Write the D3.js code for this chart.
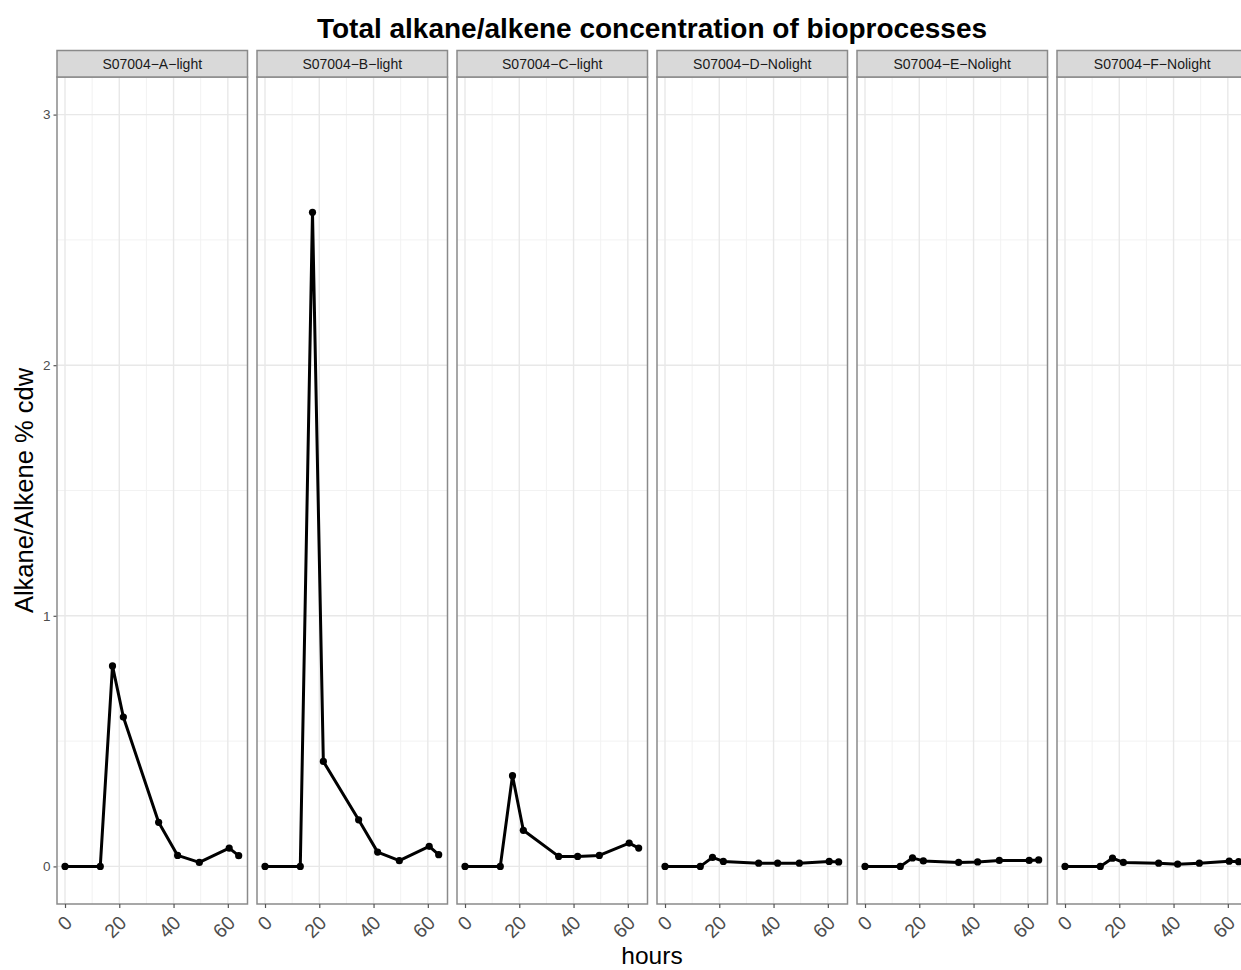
<!DOCTYPE html>
<html>
<head>
<meta charset="utf-8">
<script src="https://cdn.jsdelivr.net/npm/d3@7"></script>
<style>
  html, body { margin: 0; padding: 0; background: #ffffff; }
  svg { display: block; font-family: "Liberation Sans", Arial, Helvetica, sans-serif; }
</style>
</head>
<body>
<svg id="chart" width="1241" height="970"></svg>
<script>
// Sampling times (hours) shared by every bioprocess
const hours = [0, 13, 17.5, 21.5, 34.5, 41.5, 49.5, 60.5, 64];

// Facet labels
const samples = [
  "S07004\u2212A\u2212light",
  "S07004\u2212B\u2212light",
  "S07004\u2212C\u2212light",
  "S07004\u2212D\u2212Nolight",
  "S07004\u2212E\u2212Nolight",
  "S07004\u2212F\u2212Nolight"
];

// Total alkane/alkene, % of cell dry weight
const valuesA = [0, 0, 0.800, 0.596, 0.176, 0.044, 0.016, 0.073, 0.043];
const valuesB = [0, 0, 2.610, 0.419, 0.186, 0.057, 0.023, 0.080, 0.047];
const valuesC = [0, 0, 0.362, 0.144, 0.040, 0.040, 0.044, 0.093, 0.073];
const valuesD = [0, 0, 0.036, 0.020, 0.013, 0.013, 0.013, 0.020, 0.018];
const valuesE = [0, 0, 0.034, 0.022, 0.016, 0.018, 0.024, 0.024, 0.026];
const valuesF = [0, 0, 0.033, 0.016, 0.013, 0.009, 0.013, 0.021, 0.019];

// Axis ticks
const xTicks = [0, 20, 40, 60];
const xMinor = [10, 30, 50];
const yTicks = [0, 1, 2, 3];
const yMinor = [0.5, 1.5, 2.5];

const series = [valuesA, valuesB, valuesC, valuesD, valuesE, valuesF];

const svg = d3.select("#chart");

const panel = { left: 57, width: 190.5, step: 200, top: 77, bottom: 904, stripH: 26.5 };

const y = d3.scaleLinear().domain([-0.15, 3.15]).range([panel.bottom, panel.top]);

// Title
svg.append("text")
  .attr("x", 652).attr("y", 38)
  .attr("text-anchor", "middle")
  .style("font-size", "28px").attr("font-weight", "bold")
  .attr("fill", "#000")
  .text("Total alkane/alkene concentration of bioprocesses");

// Axis titles
svg.append("text")
  .attr("x", 652).attr("y", 964)
  .attr("text-anchor", "middle")
  .style("font-size", "24.5px").attr("fill", "#000")
  .text("hours");

svg.append("text")
  .attr("transform", `translate(33,${(panel.top + panel.bottom) / 2}) rotate(-90)`)
  .attr("text-anchor", "middle")
  .style("font-size", "25.5px").attr("fill", "#000")
  .text("Alkane/Alkene % cdw");

// Y axis (left of first panel)
const yAxis = d3.axisLeft(y).tickValues(yTicks).tickSize(3.5).tickPadding(3).tickFormat(d3.format("d"));
const yg = svg.append("g").attr("transform", `translate(${panel.left},0)`).call(yAxis);
yg.select(".domain").remove();
yg.selectAll(".tick line").attr("stroke", "#555").attr("stroke-width", 1.2);
yg.selectAll(".tick text").style("font-size", "13.5px").attr("fill", "#4d4d4d")
  .style("font-family", "Liberation Sans, Arial, sans-serif");

series.forEach((vals, i) => {
  const x0 = panel.left + i * panel.step;
  const x = d3.scaleLinear().domain([-2.95, 67.25]).range([x0, x0 + panel.width]);
  const g = svg.append("g");

  // panel background
  g.append("rect")
    .attr("x", x0).attr("y", panel.top)
    .attr("width", panel.width).attr("height", panel.bottom - panel.top)
    .attr("fill", "#fff");

  // minor grid
  g.selectAll(".vmin").data(xMinor).join("line")
    .attr("x1", d => x(d)).attr("x2", d => x(d))
    .attr("y1", panel.top).attr("y2", panel.bottom)
    .attr("stroke", "#f2f2f2").attr("stroke-width", 1);
  g.selectAll(".hmin").data(yMinor).join("line")
    .attr("x1", x0).attr("x2", x0 + panel.width)
    .attr("y1", d => y(d)).attr("y2", d => y(d))
    .attr("stroke", "#f2f2f2").attr("stroke-width", 1);
  // major grid
  g.selectAll(".vmaj").data(xTicks).join("line")
    .attr("x1", d => x(d)).attr("x2", d => x(d))
    .attr("y1", panel.top).attr("y2", panel.bottom)
    .attr("stroke", "#e8e8e8").attr("stroke-width", 1.4);
  g.selectAll(".hmaj").data(yTicks).join("line")
    .attr("x1", x0).attr("x2", x0 + panel.width)
    .attr("y1", d => y(d)).attr("y2", d => y(d))
    .attr("stroke", "#e8e8e8").attr("stroke-width", 1.4);

  // data line and points
  const pts = hours.map((h, k) => [h, vals[k]]);
  g.append("path")
    .datum(pts)
    .attr("fill", "none")
    .attr("stroke", "#000")
    .attr("stroke-width", 3)
    .attr("stroke-linejoin", "round")
    .attr("d", d3.line().x(d => x(d[0])).y(d => y(d[1])));
  g.selectAll("circle").data(pts).join("circle")
    .attr("cx", d => x(d[0])).attr("cy", d => y(d[1]))
    .attr("r", 3.6).attr("fill", "#000");

  // panel border
  g.append("rect")
    .attr("x", x0).attr("y", panel.top)
    .attr("width", panel.width).attr("height", panel.bottom - panel.top)
    .attr("fill", "none").attr("stroke", "#8a8a8a").attr("stroke-width", 1.5);

  // strip
  g.append("rect")
    .attr("x", x0).attr("y", panel.top - panel.stripH)
    .attr("width", panel.width).attr("height", panel.stripH)
    .attr("fill", "#d9d9d9").attr("stroke", "#8a8a8a").attr("stroke-width", 1.5);
  g.append("text")
    .attr("x", x0 + panel.width / 2).attr("y", panel.top - panel.stripH / 2 + 5)
    .attr("text-anchor", "middle")
    .style("font-size", "14px").attr("fill", "#1a1a1a")
    .text(samples[i]);

  // x axis
  const xAxis = d3.axisBottom(x).tickValues(xTicks).tickSize(4).tickPadding(2).tickFormat(d3.format("d"));
  const xg = svg.append("g").attr("transform", `translate(0,${panel.bottom})`).call(xAxis);
  xg.select(".domain").remove();
  xg.selectAll(".tick line").attr("stroke", "#555").attr("stroke-width", 1.2);
  xg.selectAll(".tick text")
    .style("font-size", "19.5px").attr("fill", "#4d4d4d")
    .style("font-family", "Liberation Sans, Arial, sans-serif")
    .attr("text-anchor", "end")
    .attr("dy", null)
    .attr("y", 0)
    .attr("transform", "translate(8,20) rotate(-45)");
});
</script>
</body>
</html>
